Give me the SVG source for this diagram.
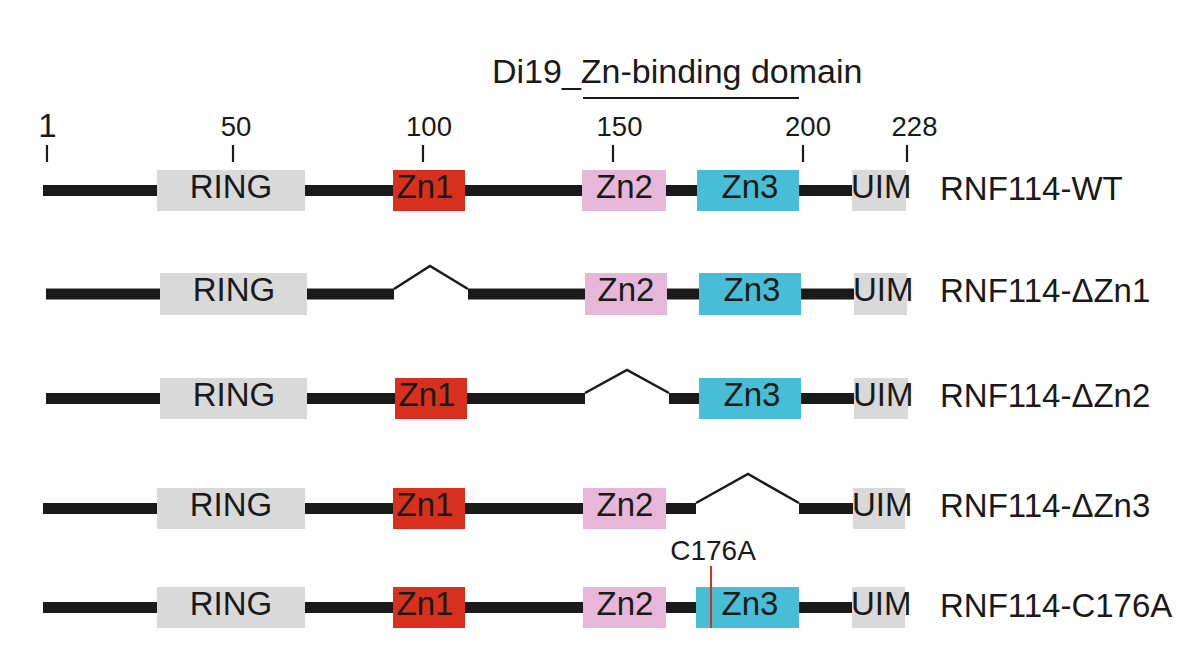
<svg xmlns="http://www.w3.org/2000/svg" width="1177" height="655" viewBox="0 0 1177 655">
<style>
text{font-family:"Liberation Sans",Arial,sans-serif;fill:#1a1a1a}
.bb{stroke:#1a1a1a;stroke-width:11;fill:none}
.chev{stroke:#1a1a1a;stroke-width:2.5;fill:none;stroke-linejoin:miter}
.tick{stroke:#1a1a1a;stroke-width:2.2}
.ring{fill:#d9d9d9}
.uim{fill:#d9d9d9}
.zn1{fill:#d7301c}
.zn2{fill:#e6b7d8}
.zn3{fill:#47bed5}
.bl{font-size:33px;text-anchor:middle}
.ul{font-size:33px}
.rl{font-size:33px}
.sc{font-size:27.5px;text-anchor:middle}
</style>
<rect width="1177" height="655" fill="#ffffff"/>
<g id="scale">
<text x="492" y="83" style="font-size:34px">Di19_Zn-binding domain</text>
<line x1="583" y1="98" x2="799" y2="98" stroke="#1a1a1a" stroke-width="2"/>
<text x="47.5" y="137" style="font-size:33px;text-anchor:middle">1</text>
<text x="236" y="136" class="sc">50</text>
<text x="429" y="136" class="sc">100</text>
<text x="619.5" y="136" class="sc">150</text>
<text x="808" y="136" class="sc">200</text>
<text x="914.5" y="136" class="sc">228</text>
<line class="tick" x1="47" y1="145" x2="47" y2="162"/>
<line class="tick" x1="233" y1="145" x2="233" y2="162"/>
<line class="tick" x1="423" y1="145" x2="423" y2="162"/>
<line class="tick" x1="613" y1="145" x2="613" y2="162"/>
<line class="tick" x1="803" y1="145" x2="803" y2="162"/>
<line class="tick" x1="907" y1="145" x2="907" y2="162"/>
</g>
<g id="connectors">
<line class="bb" x1="43" y1="190.5" x2="852" y2="190.5"/>
<line class="bb" x1="46" y1="294" x2="394" y2="294"/>
<line class="bb" x1="468" y1="294" x2="854" y2="294"/>
<polyline class="chev" points="394,289 430,266 468,289"/>
<line class="bb" x1="46" y1="398.5" x2="585" y2="398.5"/>
<line class="bb" x1="669" y1="398.5" x2="854" y2="398.5"/>
<polyline class="chev" points="585,393 627,370 669,393"/>
<line class="bb" x1="43" y1="508.5" x2="696" y2="508.5"/>
<line class="bb" x1="799" y1="508.5" x2="853" y2="508.5"/>
<polyline class="chev" points="696,503 748,474 799,503"/>
<line class="bb" x1="43" y1="607.5" x2="852" y2="607.5"/>
</g>
<g id="row-wt">
<rect class="ring" x="157" y="170" width="148" height="41"/><text class="bl" x="231" y="197.5">RING</text>
<rect class="zn1" x="393" y="170" width="72" height="41"/><text class="bl" x="425" y="197.5">Zn1</text>
<rect class="zn2" x="582" y="170" width="84" height="41"/><text class="bl" x="624.5" y="197.5">Zn2</text>
<rect class="zn3" x="697" y="170" width="102" height="41"/><text class="bl" x="750" y="197.5">Zn3</text>
<rect class="uim" x="852" y="170" width="54" height="41"/><text class="ul" x="851" y="197.5">UIM</text>
<text class="rl" x="940" y="200">RNF114-WT</text>
</g>
<g id="row-dzn1">
<rect class="ring" x="160" y="273" width="147" height="42"/><text class="bl" x="234" y="301">RING</text>
<rect class="zn2" x="585" y="273" width="82" height="42"/><text class="bl" x="626" y="301">Zn2</text>
<rect class="zn3" x="699" y="273" width="102" height="42"/><text class="bl" x="752" y="301">Zn3</text>
<rect class="uim" x="854" y="273" width="53" height="42"/><text class="ul" x="853" y="301">UIM</text>
<text class="rl" x="940" y="302">RNF114-ΔZn1</text>
</g>
<g id="row-dzn2">
<rect class="ring" x="160" y="378" width="147" height="41"/><text class="bl" x="234" y="405.5">RING</text>
<rect class="zn1" x="395" y="378" width="72" height="41"/><text class="bl" x="427" y="405.5">Zn1</text>
<rect class="zn3" x="699" y="378" width="102" height="41"/><text class="bl" x="752" y="405.5">Zn3</text>
<rect class="uim" x="854" y="378" width="54" height="41"/><text class="ul" x="853" y="405.5">UIM</text>
<text class="rl" x="940" y="407">RNF114-ΔZn2</text>
</g>
<g id="row-dzn3">
<rect class="ring" x="157" y="488" width="148" height="41"/><text class="bl" x="231" y="515.5">RING</text>
<rect class="zn1" x="393" y="488" width="72" height="41"/><text class="bl" x="425" y="515.5">Zn1</text>
<rect class="zn2" x="583" y="488" width="83" height="41"/><text class="bl" x="625" y="515.5">Zn2</text>
<rect class="uim" x="853" y="488" width="52" height="41"/><text class="ul" x="852" y="515.5">UIM</text>
<text class="rl" x="940" y="517">RNF114-ΔZn3</text>
</g>
<g id="row-c176a">
<rect class="ring" x="157" y="587" width="148" height="41"/><text class="bl" x="231" y="614.5">RING</text>
<rect class="zn1" x="393" y="587" width="72" height="41"/><text class="bl" x="425" y="614.5">Zn1</text>
<rect class="zn2" x="583" y="587" width="83" height="41"/><text class="bl" x="625" y="614.5">Zn2</text>
<rect class="zn3" x="696" y="587" width="103" height="41"/><text class="bl" x="750" y="614.5">Zn3</text>
<rect class="uim" x="852" y="587" width="53" height="41"/><text class="ul" x="851" y="614.5">UIM</text>
<line x1="711" y1="566" x2="711" y2="628" stroke="#d2321e" stroke-width="2"/>
<text x="713" y="560" style="font-size:28px;text-anchor:middle">C176A</text>
<text class="rl" x="940" y="617">RNF114-C176A</text>
</g>
</svg>
